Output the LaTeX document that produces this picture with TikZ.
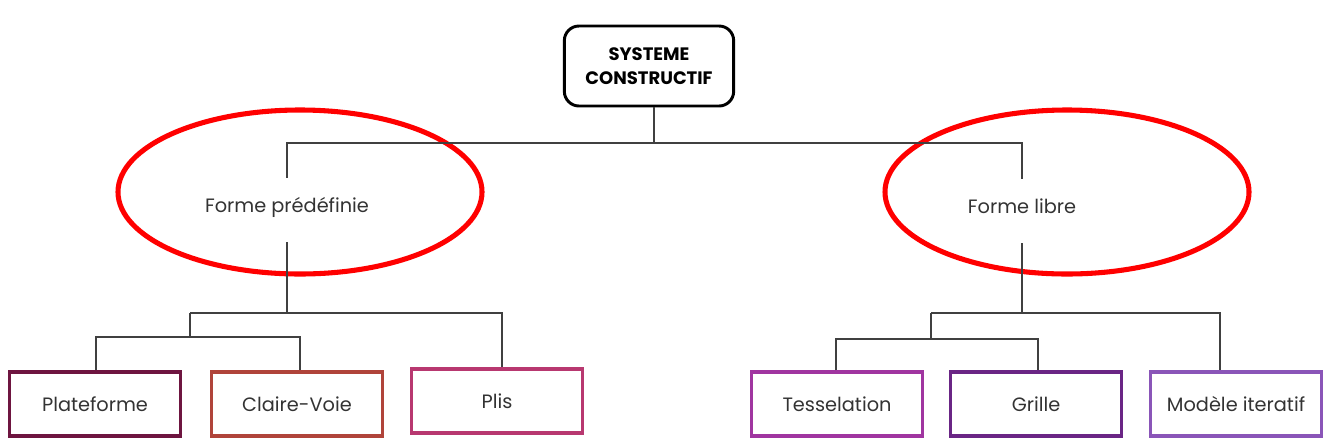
\documentclass[tikz,border=0pt]{standalone}
\usepackage{fontspec}
\setmainfont{Poppins}
\usetikzlibrary{shapes.geometric}
\definecolor{cPlat}{HTML}{6E1540}
\definecolor{cClaire}{HTML}{B0443A}
\definecolor{cPlis}{HTML}{B83870}
\definecolor{cTess}{HTML}{A035A0}
\definecolor{cGrille}{HTML}{6A2585}
\definecolor{cModele}{HTML}{8A55B8}
\definecolor{cLine}{HTML}{404040}
\tikzset{
  leafbox/.style={draw, line width=2.4pt, minimum width=128pt, minimum height=48pt, inner sep=0pt, font=\fontsize{14.5}{16}\selectfont, text=black!80},
  topbox/.style={draw=black, line width=2.2pt, rounded corners=11pt, minimum width=127pt, minimum height=60pt, align=center, font=\fontsize{13.5}{18.5}\selectfont\bfseries},
  formlabel/.style={minimum width=20pt, minimum height=48pt, inner sep=0pt, font=\fontsize{14.5}{16}\selectfont, text=black!80},
  redring/.style={ellipse, draw=red, line width=3.8pt, minimum width=273pt, minimum height=123pt, inner sep=0pt},
  conn/.style={draw=cLine, line width=1.2pt}
}
\begin{document}
\begin{tikzpicture}[x=0.75pt,y=-0.75pt]
\useasboundingbox (0,0) rectangle (1326,440);
\node[topbox] (top) at (649,66) {SYSTEME\\CONSTRUCTIF};
\node[redring] (ellL) at (300,192) {};
\node[redring] (ellR) at (1067,192) {};
\node[formlabel] (fp) at (287,210) {\raisebox{8pt}{Forme prédéfinie}};
\node[formlabel] (fl) at (1022,211) {\raisebox{8pt}{Forme libre}};
\node[leafbox, draw=cPlat] (plat) at (95,404) {Plateforme};
\node[leafbox, draw=cClaire] (claire) at (297,404) {Claire-Voie};
\node[leafbox, draw=cPlis] (plis) at (497,401) {Plis};
\node[leafbox, draw=cTess] (tess) at (837,404) {Tesselation};
\node[leafbox, draw=cGrille] (grille) at (1036,404) {Grille};
\node[leafbox, draw=cModele] (modele) at (1236,404) {Modèle iteratif};
\coordinate (hTop) at (654,143);
\coordinate (jL) at (190,313);
\coordinate (jR) at (931,313);
\draw[conn] (top.south -| hTop) -- (hTop);
\draw[conn] (hTop) -| (fp.north);
\draw[conn] (hTop) -| (fl.north);
% left subtree
\draw[conn] (fp.south) -- (fp.south |- jL);
\draw[conn] (jL) -- (jL -| 502,0) -- ([xshift=3.75pt]plis.north);
\draw[conn] (jL) -- (190,337);
\draw[conn] ([xshift=0.75pt]plat.north) |- (190,337) -| ([xshift=2.25pt]claire.north);
% right subtree
\draw[conn] (fl.south) -- (fl.south |- jR);
\draw[conn] (jR) -- (1220,313) -- ([xshift=-12pt]modele.north);
\draw[conn] (jR) -- (931,339);
\draw[conn] ([xshift=-0.75pt]tess.north) |- (931,339) -| ([xshift=1.5pt]grille.north);
\end{tikzpicture}
\end{document}
